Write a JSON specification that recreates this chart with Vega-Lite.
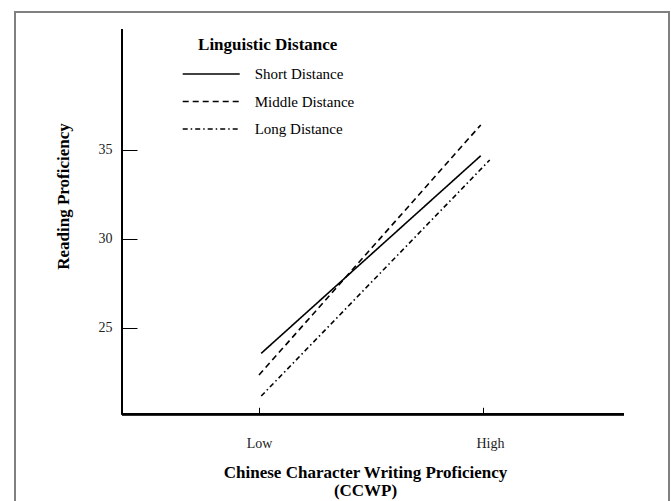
{
  "$schema": "https://vega.github.io/schema/vega-lite/v6.json",
  "width": 654,
  "height": 500,
  "autosize": {"type": "none"},
  "padding": {"left": 15, "top": 12, "right": 2, "bottom": 0},
  "background": "white",
  "config": {
    "view": {"stroke": "#808080", "strokeWidth": 2},
    "font": "Liberation Serif",
    "axisBottom": {
      "offset": -97.7,
      "domain": false,
      "grid": false,
      "labelExpr": "datum.value == 0 ? 'Low' : 'High'",
      "tickSize": -7,
      "tickColor": "black",
      "labelPadding": 29.5,
      "labelFontSize": 14,
      "labelColor": "#222",
      "labelFont": "Liberation Serif",
      "titleFont": "Liberation Serif",
      "titleFontSize": 17,
      "titleFontWeight": "bold",
      "titleColor": "black",
      "titleX": 350,
      "titleY": 50,
      "titleAlign": "center",
      "titleBaseline": "top",
      "titleLineHeight": 18
    },
    "axisLeft": {
      "offset": -107,
      "domain": false,
      "grid": false,
      "tickSize": -15,
      "tickColor": "black",
      "labelPadding": 25,
      "labelFontSize": 14,
      "labelColor": "#222",
      "labelFont": "Liberation Serif",
      "titleFont": "Liberation Serif",
      "titleFontSize": 17,
      "titleFontWeight": "bold",
      "titleColor": "black",
      "titleAngle": -90,
      "titleX": -59,
      "titleY": 184,
      "titleAlign": "center",
      "titleBaseline": "middle"
    }
  },
  "data": {
    "values": [
      {"cwp": 0.01, "reading": 23.55, "distance": "Short Distance"},
      {"cwp": 0.99, "reading": 34.65, "distance": "Short Distance"},
      {"cwp": 0.0, "reading": 22.33, "distance": "Middle Distance"},
      {"cwp": 0.99, "reading": 36.38, "distance": "Middle Distance"},
      {"cwp": 0.01, "reading": 21.15, "distance": "Long Distance"},
      {"cwp": 1.03, "reading": 34.41, "distance": "Long Distance"}
    ]
  },
  "layer": [
    {
      "mark": {"type": "line", "color": "black", "strokeWidth": 1.6},
      "encoding": {
        "x": {
          "field": "cwp",
          "type": "quantitative",
          "scale": {"domain": [-1.0893, 1.8304], "nice": false, "zero": false},
          "axis": {"title": ["Chinese Character Writing Proficiency", "(CCWP)"], "values": [0, 1], "labelOffset": {"condition": {"test": "datum.value == 1", "value": 7}, "value": 0}}
        },
        "y": {
          "field": "reading",
          "type": "quantitative",
          "scale": {"domain": [14.635, 42.725], "nice": false, "zero": false},
          "axis": {"title": "Reading Proficiency", "values": [25, 30, 35]}
        },
        "strokeDash": {
          "field": "distance",
          "type": "nominal",
          "scale": {
            "domain": ["Short Distance", "Middle Distance", "Long Distance"],
            "range": [[1, 0], [6, 4], [5, 3, 1.5, 3]]
          },
          "legend": {
            "orient": "none",
            "legendX": 166.7,
            "legendY": 25,
            "title": "Linguistic Distance",
            "titleFont": "Liberation Serif",
            "titleFontSize": 17,
            "titleFontWeight": "bold",
            "titleColor": "black",
            "titleAnchor": "middle",
            "titlePadding": 10,
            "labelFont": "Liberation Serif",
            "labelFontSize": 15,
            "labelColor": "black",
            "labelOffset": 14,
            "symbolType": "stroke",
            "symbolSize": 3249,
            "symbolStrokeWidth": 1.5,
            "symbolStrokeColor": "black",
            "clipHeight": 20,
            "rowPadding": 7.5,
            "padding": 0
          }
        }
      }
    },
    {
      "mark": {"type": "rule", "color": "black", "strokeWidth": 2},
      "encoding": {
        "x": {"datum": -0.6116, "type": "quantitative", "scale": {"domain": [-1.0893, 1.8304], "nice": false, "zero": false}, "axis": {"title": ["Chinese Character Writing Proficiency", "(CCWP)"], "values": [0, 1], "labelOffset": {"condition": {"test": "datum.value == 1", "value": 7}, "value": 0}}},
        "y": {"datum": 20.124, "type": "quantitative", "scale": {"domain": [14.635, 42.725], "nice": false, "zero": false}, "axis": {"title": "Reading Proficiency", "values": [25, 30, 35]}},
        "y2": {"datum": 41.75}
      }
    },
    {
      "mark": {"type": "rule", "color": "black", "strokeWidth": 2},
      "encoding": {
        "x": {"datum": -0.6116, "type": "quantitative", "scale": {"domain": [-1.0893, 1.8304], "nice": false, "zero": false}, "axis": {"title": ["Chinese Character Writing Proficiency", "(CCWP)"], "values": [0, 1], "labelOffset": {"condition": {"test": "datum.value == 1", "value": 7}, "value": 0}}},
        "x2": {"datum": 1.6295},
        "y": {"datum": 20.124, "type": "quantitative", "scale": {"domain": [14.635, 42.725], "nice": false, "zero": false}, "axis": {"title": "Reading Proficiency", "values": [25, 30, 35]}}
      }
    }
  ]
}
